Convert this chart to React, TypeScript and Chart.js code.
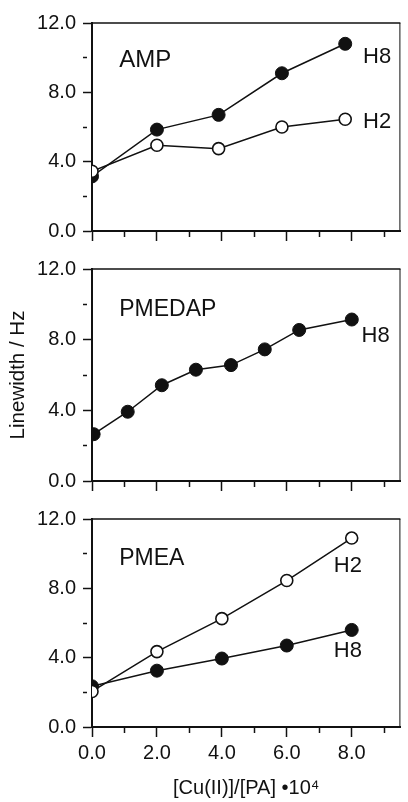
import React, { useEffect, useRef } from "react";
import { Chart, registerables } from "chart.js";

Chart.register(...registerables);

// ---------- data ----------
const ampX = [0, 2, 3.9, 5.85, 7.8];
const ampH8 = [3.15, 5.85, 6.7, 9.1, 10.8];
const ampH2 = [3.45, 4.95, 4.75, 6.0, 6.45];

const pmedapX = [0.05, 1.1, 2.15, 3.2, 4.28, 5.32, 6.38, 8.0];
const pmedapH8 = [2.65, 3.92, 5.42, 6.3, 6.56, 7.45, 8.55, 9.14];

const pmeaX = [0, 2, 4, 6, 8];
const pmeaH2 = [2.05, 4.35, 6.25, 8.45, 10.9];
const pmeaH8 = [2.35, 3.25, 3.95, 4.7, 5.6];

const yTitle = "Linewidth / Hz";
const xTitle = "[Cu(II)]/[PA] •10⁴";

// ---------- styling ----------
const FONT = "'Liberation Sans', Arial, Helvetica, sans-serif";
const INK = "#111";

const pts = (xs: number[], ys: number[]) => xs.map((x, i) => ({ x, y: ys[i] }));

const filledStyle = {
  borderColor: INK,
  backgroundColor: INK,
  pointBackgroundColor: INK,
  pointBorderColor: INK,
  pointRadius: 6.5,
  pointBorderWidth: 1,
  borderWidth: 1.5,
  fill: false,
  tension: 0,
};
const openStyle = {
  borderColor: INK,
  backgroundColor: "#fff",
  pointBackgroundColor: "#fff",
  pointBorderColor: INK,
  pointRadius: 6,
  pointBorderWidth: 1.6,
  borderWidth: 1.5,
  fill: false,
  tension: 0,
};

type Label = { text: string; x: number; y: number; size: number };

const framePlugin = {
  id: "frame",
  afterDatasetsDraw(chart: any, _args: any, opts: any) {
    const { ctx, chartArea: a, scales } = chart;
    ctx.save();
    ctx.strokeStyle = INK;
    ctx.lineWidth = 1.5;
    ctx.beginPath();
    ctx.moveTo(a.left, a.top);
    ctx.lineTo(a.right, a.top);
    ctx.stroke();
    ctx.lineWidth = 1;
    ctx.beginPath();
    ctx.moveTo(a.right - 0.5, a.top);
    ctx.lineTo(a.right - 0.5, a.bottom);
    ctx.stroke();
    ctx.fillStyle = INK;
    ctx.textBaseline = "middle";
    ctx.textAlign = "left";
    for (const l of (opts.labels || []) as Label[]) {
      ctx.font = `${l.size}px ${FONT}`;
      ctx.fillText(l.text, scales.x.getPixelForValue(l.x), scales.y.getPixelForValue(l.y));
    }
    ctx.restore();
  },
};

type Panel = {
  top: number;
  height: number;
  padTop: number;
  xAxisH: number;
  showX: boolean;
  showYTitle: boolean;
  datasets: any[];
  labels: Label[];
};

const panels: Panel[] = [
  {
    top: 0,
    height: 250,
    padTop: 23,
    xAxisH: 17,
    showX: false,
    showYTitle: false,
    datasets: [
      { label: "H2", data: pts(ampX, ampH2), ...openStyle },
      { label: "H8", data: pts(ampX, ampH8), ...filledStyle },
    ],
    labels: [
      { text: "AMP", x: 0.84, y: 9.85, size: 24 },
      { text: "H8", x: 8.35, y: 10.05, size: 22 },
      { text: "H2", x: 8.35, y: 6.3, size: 22 },
    ],
  },
  {
    top: 250,
    height: 250,
    padTop: 19,
    xAxisH: 19,
    showX: false,
    showYTitle: true,
    datasets: [{ label: "H8", data: pts(pmedapX, pmedapH8), ...filledStyle }],
    labels: [
      { text: "PMEDAP", x: 0.84, y: 9.7, size: 23 },
      { text: "H8", x: 8.3, y: 8.2, size: 22 },
    ],
  },
  {
    top: 500,
    height: 302,
    padTop: 15,
    xAxisH: 75,
    showX: true,
    showYTitle: false,
    datasets: [
      { label: "H2", data: pts(pmeaX, pmeaH2), ...openStyle },
      { label: "H8", data: pts(pmeaX, pmeaH8), ...filledStyle },
    ],
    labels: [
      { text: "PMEA", x: 0.84, y: 9.7, size: 23 },
      { text: "H2", x: 7.45, y: 9.3, size: 22 },
      { text: "H8", x: 7.45, y: 4.4, size: 22 },
    ],
  },
];

function PanelChart({ p }: { p: Panel }) {
  const ref = useRef<HTMLCanvasElement | null>(null);
  useEffect(() => {
    if (!ref.current) return;
    const chart = new Chart(ref.current, {
      type: "line",
      data: { datasets: p.datasets },
      plugins: [framePlugin as any],
      options: {
        animation: false,
        responsive: false,
        layout: { padding: { top: p.padTop, right: 1, bottom: 0, left: 0 } },
        plugins: {
          legend: { display: false },
          tooltip: { enabled: false },
          frame: { labels: p.labels },
        } as any,
        scales: {
          x: {
            type: "linear",
            min: 0,
            max: 9.5,
            ticks: {
              stepSize: 1,
              includeBounds: false,
              autoSkip: false,
              maxRotation: 0,
              display: p.showX,
              padding: 4,
              color: INK,
              font: { family: FONT, size: 20 },
              callback: (v: any) => (Number(v) % 2 === 0 ? Number(v).toFixed(1) : ""),
            },
            grid: {
              drawOnChartArea: false,
              drawTicks: true,
              tickLength: 10,
              tickColor: INK,
              tickWidth: 1.5,
              tickBorderDash: (c: any) =>
                c.tick && Math.abs(c.tick.value % 2) < 1e-6 ? [] : [5, 50],
            },
            border: { display: true, color: INK, width: 2 },
            title: {
              display: p.showX,
              text: xTitle,
              color: INK,
              font: { family: FONT, size: 20 },
              padding: { top: 0, bottom: 2 },
            },
            afterFit: (s: any) => {
              s.height = p.xAxisH;
            },
          } as any,
          y: {
            min: 0,
            max: 12,
            ticks: {
              stepSize: 2,
              autoSkip: false,
              padding: 7,
              color: INK,
              font: { family: FONT, size: 20 },
              callback: (v: any) => (Number(v) % 4 === 0 ? Number(v).toFixed(1) : ""),
            },
            grid: {
              drawOnChartArea: false,
              drawTicks: true,
              tickLength: 9,
              tickColor: INK,
              tickWidth: 1.5,
              tickBorderDash: (c: any) =>
                c.tick && Math.abs(c.tick.value % 4) < 1e-6 ? [] : [4, 50],
            },
            border: { display: true, color: INK, width: 2 },
            title: {
              display: p.showYTitle,
              text: yTitle,
              color: INK,
              font: { family: FONT, size: 20.5 },
              padding: { top: 6, bottom: 0 },
            },
            afterFit: (s: any) => {
              s.width = 92;
            },
          } as any,
        },
      },
    });
    return () => chart.destroy();
  }, [p]);
  return (
    <canvas
      ref={ref}
      width={408}
      height={p.height}
      style={{ position: "absolute", left: 0, top: p.top, width: 408, height: p.height, display: "block" }}
    />
  );
}

export default function App() {
  return (
    <div style={{ position: "absolute", left: 0, top: 0, width: 408, height: 802, background: "#fff" }}>
      {panels.map((p, i) => (
        <PanelChart key={i} p={p} />
      ))}
    </div>
  );
}
